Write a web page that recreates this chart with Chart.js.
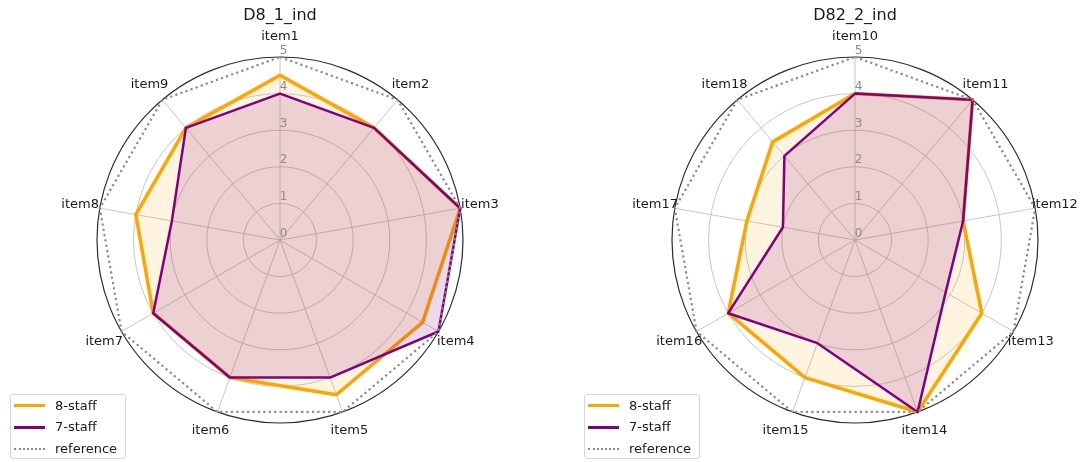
<!DOCTYPE html>
<html>
<head>
<meta charset="utf-8">
<script src="https://cdn.jsdelivr.net/npm/chart.js@4.4.1/dist/chart.umd.min.js"></script>
<style>
  html, body { margin: 0; padding: 0; background: #fff; }
  #wrap { position: relative; width: 1080px; height: 462px; overflow: hidden; font-family: "DejaVu Sans", sans-serif; }
  #wrap canvas { position: absolute; top: 0; }
  .legend { position: absolute; top: 394px; width: 116px; height: 65px; border: 1px solid #d6d6d6; border-radius: 3px; background: rgba(255,255,255,0.85); box-sizing: border-box; }
  .legend .sw { position: absolute; left: 3px; width: 31px; height: 0; }
  .legend .tx { position: absolute; left: 44px; height: 20px; line-height: 20px; font-size: 13px; color: #1a1a1a; white-space: nowrap; }
</style>
</head>
<body>
<div id="wrap">
  <canvas id="chartA" width="540" height="462" style="left:0px"></canvas>
  <canvas id="chartB" width="540" height="462" style="left:540px"></canvas>

  <div class="legend" style="left:10px">
    <div class="sw" style="top:9px;border-top:3px solid #FFA500"></div><div class="tx" style="top:0.5px">8-staff</div>
    <div class="sw" style="top:31px;border-top:3px solid #800080"></div><div class="tx" style="top:22px">7-staff</div>
    <div class="sw" style="top:53px;border-top:2px dotted #8a8a8a"></div><div class="tx" style="top:43.5px">reference</div>
  </div>
  <div class="legend" style="left:584px">
    <div class="sw" style="top:9px;border-top:3px solid #FFA500"></div><div class="tx" style="top:0.5px">8-staff</div>
    <div class="sw" style="top:31px;border-top:3px solid #800080"></div><div class="tx" style="top:22px">7-staff</div>
    <div class="sw" style="top:53px;border-top:2px dotted #8a8a8a"></div><div class="tx" style="top:43.5px">reference</div>
  </div>
</div>

<script>
// ---- data ----
const itemsA   = ['item1', 'item2', 'item3', 'item4', 'item5', 'item6', 'item7', 'item8', 'item9'];
const staff8A  = [4.5, 4.0, 5.0, 4.5, 4.5, 4.0, 4.0, 4.0, 4.0];
const staff7A  = [4.0, 4.0, 5.0, 5.0, 4.0, 4.0, 4.0, 3.0, 4.0];
const refA     = [5, 5, 5, 5, 5, 5, 5, 5, 5];

const itemsB   = ['item10', 'item11', 'item12', 'item13', 'item14', 'item15', 'item16', 'item17', 'item18'];
const staff8B  = [4.0, 5.0, 3.0, 4.0, 5.0, 4.0, 4.0, 3.0, 3.5];
const staff7B  = [4.0, 5.0, 3.0, 2.86, 5.0, 3.0, 4.0, 2.0, 3.0];
const refB     = [5, 5, 5, 5, 5, 5, 5, 5, 5];

const scoreMin = 0;
const scoreMax = 5;
const scoreStep = 1;

// ---- text drawn around each radar: radial tick labels, item labels, title ----
const radarText = {
  id: 'radarText',
  afterDraw(chart, args, opts) {
    const s = chart.scales.r;
    const ctx = chart.ctx;
    ctx.save();
    ctx.textAlign = 'center';
    ctx.textBaseline = 'middle';

    ctx.font = '12px "DejaVu Sans"';
    ctx.fillStyle = '#8c8c8c';
    s.ticks.forEach(t => {
      const d = s.getDistanceFromCenterForValue(t.value);
      ctx.fillText(t.label, s.xCenter + 3.5, s.yCenter - d - 6.5);
    });

    ctx.font = '13px "DejaVu Sans"';
    ctx.fillStyle = '#1a1a1a';
    const outer = s.getDistanceFromCenterForValue(s.max);
    chart.data.labels.forEach((lab, i) => {
      const p = s.getPointPosition(i, outer + 20);
      ctx.fillText(lab, p.x, p.y);
    });

    ctx.font = '16px "DejaVu Sans"';
    ctx.fillText(opts.title, s.xCenter, 16);
    ctx.restore();
  }
};

function makeRadar(canvasId, labels, s8, s7, ref, title, pad) {
  return new Chart(document.getElementById(canvasId), {
    type: 'radar',
    data: {
      labels: labels,
      datasets: [
        { label: '8-staff', data: s8, order: 3,
          borderColor: '#FFA500', backgroundColor: 'rgba(255,165,0,0.12)',
          borderWidth: 3.5, fill: true, pointRadius: 0, borderJoinStyle: 'round' },
        { label: '7-staff', data: s7, order: 2,
          borderColor: '#800080', backgroundColor: 'rgba(128,0,128,0.15)',
          borderWidth: 2.5, fill: true, pointRadius: 0, borderJoinStyle: 'round' },
        { label: 'reference', data: ref, order: 1,
          borderColor: '#8a8a8a', borderWidth: 2.2, borderDash: [2.2, 3.2],
          fill: false, pointRadius: 0 }
      ]
    },
    options: {
      responsive: false,
      animation: false,
      devicePixelRatio: 1,
      layout: { padding: pad },
      elements: { line: { tension: 0 } },
      plugins: {
        legend: { display: false },
        title: { display: false },
        tooltip: { enabled: false },
        radarText: { title: title }
      },
      scales: {
        r: {
          min: scoreMin,
          max: scoreMax,
          ticks: { stepSize: scoreStep, display: false },
          pointLabels: { display: false },
          angleLines: { color: '#c6c6c6', lineWidth: 1 },
          grid: {
            circular: true,
            color: ctx => (ctx.tick && ctx.tick.value === scoreMax) ? '#2b2b2b' : '#c6c6c6',
            lineWidth: ctx => (ctx.tick && ctx.tick.value === scoreMax) ? 1.2 : 1
          }
        }
      }
    },
    plugins: [radarText]
  });
}

makeRadar('chartA', itemsA, staff8A, staff7A, refA, 'D8_1_ind',
  { left: 97, right: 77, top: 57, bottom: 39 });
makeRadar('chartB', itemsB, staff8B, staff7B, refB, 'D82_2_ind',
  { left: 132, right: 42, top: 57, bottom: 39 });
</script>
</body>
</html>
